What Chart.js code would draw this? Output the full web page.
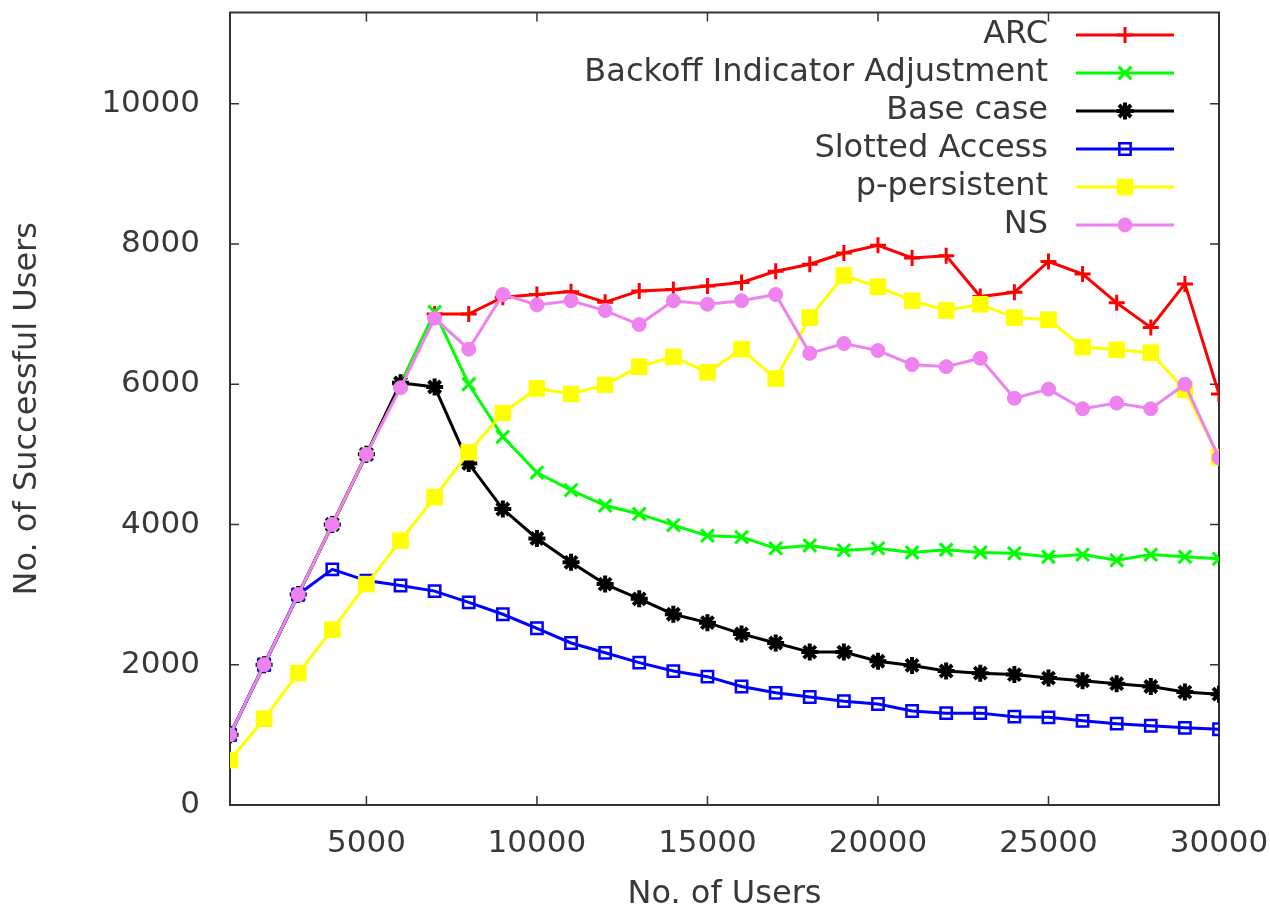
<!DOCTYPE html>
<html>
<head>
<meta charset="utf-8">
<script src="https://cdn.jsdelivr.net/npm/chart.js@4.4.1/dist/chart.umd.min.js"></script>
<style>
  html, body { margin: 0; padding: 0; background: #fff; }
  #wrap { width: 1270px; height: 909px; }
</style>
</head>
<body>
<div id="wrap"><canvas id="chart" width="1270" height="909"></canvas></div>
<script>
// data
const users = [1000, 2000, 3000, 4000, 5000, 6000, 7000, 8000, 9000, 10000,
  11000, 12000, 13000, 14000, 15000, 16000, 17000, 18000, 19000, 20000,
  21000, 22000, 23000, 24000, 25000, 26000, 27000, 28000, 29000, 30000];

const arcVals = [1000, 2000, 3000, 4000, 5000, 6000, 7000, 7000, 7240, 7280,
  7320, 7170, 7330, 7350, 7400, 7450, 7610, 7710, 7870, 7980,
  7800, 7830, 7250, 7310, 7750, 7570, 7160, 6810, 7430, 5860];
const backoffVals = [1000, 2000, 3000, 4000, 5000, 6000, 7030, 6000, 5250, 4740,
  4490, 4270, 4150, 3990, 3840, 3820, 3660, 3700, 3630, 3660,
  3600, 3640, 3600, 3590, 3540, 3570, 3490, 3570, 3540, 3510];
const baseVals = [1000, 2000, 3000, 4000, 5000, 6020, 5960, 4870, 4220, 3800,
  3460, 3150, 2940, 2720, 2600, 2440, 2310, 2180, 2180, 2050,
  1990, 1910, 1880, 1860, 1810, 1770, 1730, 1690, 1610, 1580];
const slottedVals = [1000, 2000, 3000, 3360, 3200, 3130, 3050, 2890, 2720, 2520,
  2310, 2170, 2030, 1910, 1830, 1690, 1600, 1540, 1480, 1440,
  1340, 1310, 1310, 1260, 1250, 1200, 1160, 1130, 1100, 1080];
const pPersistentVals = [640, 1230, 1880, 2500, 3150, 3770, 4390, 5030, 5590, 5940,
  5860, 5990, 6250, 6390, 6170, 6500, 6080, 6950, 7550, 7390,
  7190, 7050, 7140, 6950, 6920, 6530, 6490, 6450, 5920, 4960];
const nsVals = [1000, 2000, 3000, 4000, 5000, 5950, 6940, 6500, 7280, 7130,
  7190, 7050, 6850, 7190, 7140, 7190, 7280, 6440, 6580, 6480,
  6280, 6250, 6370, 5800, 5930, 5650, 5730, 5650, 6000, 4950];

const seriesNames = ['ARC', 'Backoff Indicator Adjustment', 'Base case', 'Slotted Access', 'p-persistent', 'NS'];
const xTicks = [5000, 10000, 15000, 20000, 25000, 30000];
const yTicks = [0, 2000, 4000, 6000, 8000, 10000];

const textColor = '#383838';
const fontFam = '"DejaVu Sans", sans-serif';

function pts(vals) {
  return users.map((u, i) => ({x: u, y: vals[i]}));
}

function mkSet(label, vals, color, style, radius, bw, fill, order) {
  return {
    label: label,
    data: pts(vals),
    borderColor: color,
    backgroundColor: fill,
    borderWidth: 3,
    pointStyle: style,
    pointRadius: radius,
    pointBorderWidth: bw,
    pointBorderColor: color,
    pointBackgroundColor: fill,
    tension: 0,
    order: order
  };
}

const datasets = [
  mkSet(seriesNames[0], arcVals, '#ff0000', 'cross', 8, 3, '#ff0000', 5),
  mkSet(seriesNames[1], backoffVals, '#00ff00', 'crossRot', 9, 3, '#00ff00', 4),
  mkSet(seriesNames[2], baseVals, '#000000', 'star', 8.5, 4, '#000000', 3),
  mkSet(seriesNames[3], slottedVals, '#0000ff', 'rect', 8, 2.5, 'rgba(0,0,0,0)', 2),
  mkSet(seriesNames[4], pPersistentVals, '#ffff00', 'rect', 11, 1, '#ffff00', 1),
  mkSet(seriesNames[5], nsVals, '#ee82ee', 'circle', 7, 1, '#ee82ee', 0)
];

// gnuplot style border with inward ticks on all four sides
const framePlugin = {
  id: 'frame',
  beforeDatasetsDraw(chart) {
    const {ctx, chartArea: a, scales} = chart;
    ctx.save();
    ctx.strokeStyle = '#333333';
    ctx.lineWidth = 2;
    ctx.strokeRect(a.left, a.top, a.right - a.left, a.bottom - a.top);
    ctx.lineWidth = 1.5;
    const len = 9;
    ctx.beginPath();
    xTicks.forEach(v => {
      const px = scales.x.getPixelForValue(v);
      ctx.moveTo(px, a.bottom); ctx.lineTo(px, a.bottom - len);
      ctx.moveTo(px, a.top); ctx.lineTo(px, a.top + len);
    });
    yTicks.forEach(v => {
      const py = scales.y.getPixelForValue(v);
      ctx.moveTo(a.left, py); ctx.lineTo(a.left + len, py);
      ctx.moveTo(a.right, py); ctx.lineTo(a.right - len, py);
    });
    ctx.stroke();
    ctx.restore();
  }
};

// key in top right, text right aligned, sample on the right
const keyPlugin = {
  id: 'key',
  afterDraw(chart) {
    const ctx = chart.ctx;
    const textRight = 1048, lineL = 1076, lineR = 1174, top = 35, step = 38;
    ctx.save();
    ctx.font = '32px ' + fontFam;
    ctx.textAlign = 'right';
    ctx.textBaseline = 'middle';
    chart.data.datasets.forEach((ds, i) => {
      const y = top + i * step;
      ctx.fillStyle = textColor;
      ctx.fillText(ds.label, textRight, y);
      ctx.strokeStyle = ds.borderColor;
      ctx.lineWidth = 3;
      ctx.beginPath();
      ctx.moveTo(lineL, y); ctx.lineTo(lineR, y);
      ctx.stroke();
      ctx.fillStyle = ds.pointBackgroundColor;
      ctx.lineWidth = ds.pointBorderWidth;
      Chart.helpers.drawPoint(ctx, {
        pointStyle: ds.pointStyle, rotation: 0,
        radius: ds.pointRadius, borderWidth: ds.pointBorderWidth
      }, (lineL + lineR) / 2, y);
    });
    ctx.restore();
  }
};

const config = {
  type: 'line',
  data: {datasets: datasets},
  options: {
    responsive: false,
    animation: false,
    layout: {padding: {left: 0, right: 51, top: 12, bottom: 0}},
    plugins: {
      legend: {display: false},
      tooltip: {enabled: false}
    },
    scales: {
      x: {
        type: 'linear',
        min: 1000,
        max: 30000,
        afterBuildTicks: s => { s.ticks = xTicks.map(v => ({value: v})); },
        afterFit: s => { s.height = 104; s.paddingLeft = 0; s.paddingRight = 0; },
        grid: {display: false, drawTicks: false},
        border: {display: false},
        ticks: {
          padding: 20,
          color: textColor,
          font: {family: fontFam, size: 31},
          maxRotation: 0,
          autoSkip: false,
          callback: v => String(v)
        },
        title: {
          display: true,
          text: 'No. of Users',
          color: textColor,
          font: {family: fontFam, size: 32, lineHeight: 0.9},
          padding: {top: 0, bottom: 0}
        }
      },
      y: {
        min: 0,
        max: 11300,
        afterBuildTicks: s => { s.ticks = yTicks.map(v => ({value: v})); },
        afterFit: s => { s.width = 230; s.paddingTop = 0; s.paddingBottom = 0; },
        grid: {display: false, drawTicks: false},
        border: {display: false},
        ticks: {
          padding: 30,
          color: textColor,
          font: {family: fontFam, size: 31},
          autoSkip: false,
          callback: v => String(v)
        },
        title: {
          display: true,
          text: 'No. of Successful Users',
          color: textColor,
          font: {family: fontFam, size: 32, lineHeight: 1.2},
          padding: {top: 8, bottom: 0}
        }
      }
    }
  },
  plugins: [framePlugin, keyPlugin]
};

const ctx = document.getElementById('chart').getContext('2d');
const myChart = new Chart(ctx, config);
</script>
</body>
</html>
